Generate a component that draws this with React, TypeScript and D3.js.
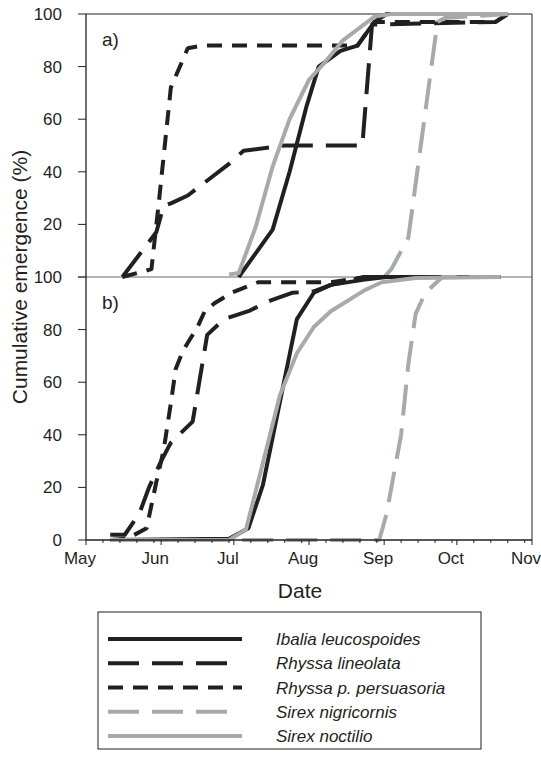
import React from "react";
import * as d3 from "d3";

type Pt = [string, number];

const MONTHS = ["May", "Jun", "Jul", "Aug", "Sep", "Oct", "Nov"];
const Y_TICKS = [20, 40, 60, 80, 100];
const SPECIES = ["Ibalia leucospoides", "Rhyssa lineolata", "Rhyssa p. persuasoria", "Sirex nigricornis", "Sirex noctilio"];

// panel a) cumulative emergence (%), dates as MM-DD
const ibaliaA: Pt[] = [["07-03", 0], ["07-17", 18], ["07-24", 40], ["07-31", 65], ["08-05", 80], ["08-14", 86], ["08-21", 88], ["08-28", 97], ["09-02", 100], ["10-22", 100]];
const lineolataA: Pt[] = [["05-16", 0], ["05-30", 17], ["06-02", 27], ["06-05", 28], ["06-12", 31], ["06-29", 43], ["07-05", 48], ["07-22", 50], ["08-23", 50], ["08-27", 96], ["10-17", 97], ["10-22", 100]];
const persuasoriaA: Pt[] = [["05-16", 0], ["05-28", 3], ["05-31", 28], ["06-05", 72], ["06-12", 87], ["06-18", 88], ["08-21", 88], ["08-28", 97], ["10-17", 97], ["10-22", 100]];
const nigricornisA: Pt[] = [["09-01", 0], ["09-04", 3], ["09-11", 15], ["09-23", 97], ["09-26", 98.5], ["10-22", 100]];
const noctilioA: Pt[] = [["06-29", 1], ["07-03", 1.5], ["07-10", 19], ["07-17", 42], ["07-24", 60], ["08-01", 75], ["08-07", 81], ["08-15", 90], ["08-28", 99], ["09-04", 100], ["10-22", 100]];

// panel b)
const ibaliaB: Pt[] = [["05-11", 0], ["06-29", 0.5], ["07-07", 4.5], ["07-13", 21], ["07-27", 84], ["08-03", 94], ["08-10", 97], ["08-24", 99], ["09-02", 100], ["10-19", 100]];
const lineolataB: Pt[] = [["05-11", 2], ["05-17", 2], ["05-23", 10], ["05-27", 20], ["06-01", 30], ["06-05", 37], ["06-14", 45], ["06-20", 78], ["06-27", 84], ["07-07", 87], ["07-16", 91], ["07-25", 94], ["08-03", 94.5], ["08-10", 97], ["08-24", 100], ["10-19", 100]];
const persuasoriaB: Pt[] = [["05-11", 0], ["05-18", 0.5], ["05-26", 4.5], ["05-30", 22], ["06-02", 34], ["06-05", 52], ["06-07", 65], ["06-10", 72], ["06-16", 81], ["06-19", 87], ["06-23", 90], ["06-30", 94], ["07-11", 98], ["08-10", 98], ["08-24", 100], ["10-19", 100]];
const nigricornisB: Pt[] = [["05-11", 0], ["08-30", 0], ["09-02", 10], ["09-08", 40], ["09-11", 67], ["09-14", 86], ["09-18", 94], ["09-25", 100], ["10-19", 100]];
const noctilioB: Pt[] = [["05-11", 0], ["06-29", 0], ["07-06", 4], ["07-14", 33], ["07-20", 55], ["07-27", 71], ["08-03", 81], ["08-10", 87], ["08-24", 95], ["08-31", 98], ["09-14", 99.6], ["10-19", 100]];

const panelA = [ibaliaA, lineolataA, persuasoriaA, nigricornisA, noctilioA];
const panelB = [ibaliaB, lineolataB, persuasoriaB, nigricornisB, noctilioB];

const BLACK = "#231f20";
const GREY = "#a7a9ac";
const LONG = "31 13";
const SHORT = "15 10";
const styles = [
  { color: BLACK, dash: undefined },
  { color: BLACK, dash: LONG },
  { color: BLACK, dash: SHORT },
  { color: GREY, dash: LONG },
  { color: GREY, dash: undefined },
];

const FONT = "'Liberation Sans', Arial, sans-serif";
const parse = (s: string) => {
  const [m, d] = s.split("-").map(Number);
  return new Date(2001, m - 1, d);
};

export default function App() {
  const left = 86, right = 532, top = 14, mid = 277, bottom = 540;
  const x = d3.scaleTime().domain([new Date(2001, 4, 1), new Date(2001, 10, 1)]).range([left, right]);
  const yA = d3.scaleLinear().domain([0, 100]).range([mid, top]);
  const yB = d3.scaleLinear().domain([0, 100]).range([bottom, mid]);
  const lineFor = (y: d3.ScaleLinear<number, number>) =>
    d3.line<Pt>().x(d => x(parse(d[0]))).y(d => y(d[1]));

  const minorTicks: Date[] = [];
  for (let m = 4; m < 10; m++) {
    [8, 15, 22, 29].forEach(day => minorTicks.push(new Date(2001, m, day)));
  }

  const drawPanel = (data: Pt[][], y: d3.ScaleLinear<number, number>, key: string) =>
    data.map((s, i) => (
      <path key={key + i} d={lineFor(y)(s) || ""} fill="none" stroke={styles[i].color}
        strokeWidth={4} strokeDasharray={styles[i].dash} strokeLinejoin="round" />
    ));

  return (
    <svg width={541} height={763} style={{ position: "absolute", left: 0, top: 0, background: "#fff" }} fontFamily={FONT}>
      {/* frame */}
      <line x1={left} x2={right} y1={top} y2={top} stroke={BLACK} strokeWidth={1} />
      <line x1={right} x2={right} y1={top} y2={bottom} stroke={BLACK} strokeWidth={1} />
      <line x1={78} x2={right} y1={mid} y2={mid} stroke="#666" strokeWidth={1} />

      {drawPanel(panelA, yA, "a")}
      {drawPanel(panelB, yB, "b")}

      {/* y axis */}
      <line x1={left} x2={left} y1={top} y2={bottom} stroke={BLACK} strokeWidth={1.3} />
      {Y_TICKS.map(t => (
        <g key={"ya" + t}>
          <line x1={78} x2={left} y1={yA(t)} y2={yA(t)} stroke={BLACK} strokeWidth={1} />
          <text x={62} y={yA(t) + 6} textAnchor="end" fontSize={17} fill={BLACK}>{t}</text>
        </g>
      ))}
      {[0, ...Y_TICKS].map(t => (
        <g key={"yb" + t}>
          <line x1={78} x2={left} y1={yB(t)} y2={yB(t)} stroke={BLACK} strokeWidth={1} />
          <text x={62} y={yB(t) + 6} textAnchor="end" fontSize={17} fill={BLACK}>{t}</text>
        </g>
      ))}

      {/* x axis */}
      <line x1={left} x2={right} y1={bottom} y2={bottom} stroke={BLACK} strokeWidth={1.3} />
      {minorTicks.map((d, i) => (
        <line key={"mt" + i} x1={x(d)} x2={x(d)} y1={bottom} y2={bottom + 3} stroke={BLACK} strokeWidth={1} />
      ))}
      {MONTHS.map((m, i) => {
        const px = x(new Date(2001, 4 + i, 1));
        return (
          <g key={m}>
            <line x1={px} x2={px} y1={bottom} y2={bottom + 5} stroke={BLACK} strokeWidth={1} />
            <text x={px - 6} y={564} textAnchor="middle" fontSize={17} fill={BLACK}>{m}</text>
          </g>
        );
      })}

      <text x={102} y={46} fontSize={19} fill={BLACK}>a)</text>
      <text x={102} y={309} fontSize={19} fill={BLACK}>b)</text>

      <text x={300} y={598} textAnchor="middle" fontSize={21} fill={BLACK}>Date</text>
      <text transform={`translate(27,${mid}) rotate(-90)`} textAnchor="middle" fontSize={21} fill={BLACK}>
        Cumulative emergence (%)
      </text>

      {/* legend */}
      <rect x={98} y={612} width={383} height={137} fill="none" stroke={BLACK} strokeWidth={1} />
      {SPECIES.map((s, i) => {
        const ly = 639 + i * 24.25;
        const x2 = styles[i].dash === LONG ? 228 : 242;
        return (
          <g key={s}>
            <line x1={108} x2={x2} y1={ly} y2={ly} stroke={styles[i].color} strokeWidth={4}
              strokeDasharray={styles[i].dash} />
            <text x={276} y={ly + 6} fontSize={17} fontStyle="italic" fill={BLACK}>{s}</text>
          </g>
        );
      })}
    </svg>
  );
}
